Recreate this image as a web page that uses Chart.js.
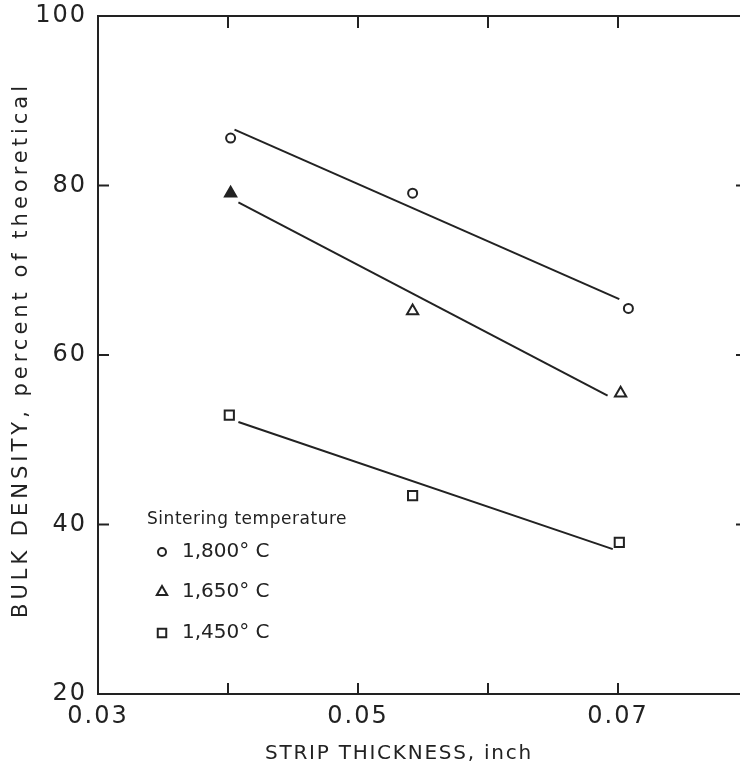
<!DOCTYPE html>
<html><head><meta charset="utf-8">
<script src="https://cdn.jsdelivr.net/npm/chart.js@4"></script>
<style>
html,body{margin:0;padding:0;background:#fff;overflow:hidden}
#wrap{width:740px;height:768px;overflow:hidden;position:relative;background:#fff}
canvas{display:block}
</style></head><body>
<div id="wrap"><canvas id="c" width="760" height="768"></canvas></div>
<script>
// ---- data ----
const seriesNames = ['1,800° C', '1,650° C', '1,450° C'];
const legendTitle = 'Sintering temperature';
const xTitle = 'STRIP THICKNESS, inch';
const yTitle = 'BULK DENSITY, percent of theoretical';

const thickness1800 = [0.0402, 0.0542, 0.0708];
const density1800   = [85.6, 79.1, 65.5];
const thickness1650 = [0.0402, 0.0542, 0.0702];
const density1650   = [79.1, 65.2, 55.5];
const thickness1450 = [0.0401, 0.0542, 0.0701];
const density1450   = [52.9, 43.4, 37.9];

// fitted straight lines (end points)
const fitX1800 = [0.0405, 0.0701], fitY1800 = [86.6, 66.6];
const fitX1650 = [0.0408, 0.0692], fitY1650 = [78.0, 55.2];
const fitX1450 = [0.0408, 0.0696], fitY1450 = [52.1, 37.1];

const xTickLabels = ['0.03', '', '0.05', '', '0.07', ''];
const yTickLabels = ['20', '40', '60', '80', '100'];

// ---- helpers ----
const INK = '#222222';
const pts = (xs, ys) => xs.map((x, i) => ({x, y: ys[i]}));
const FONT = '"DejaVu Sans", sans-serif';

function drawSpaced(ctx, text, x, y, target, font, opts) {
  opts = opts || {};
  ctx.save();
  ctx.font = font;
  ctx.letterSpacing = '0px';
  const w0 = ctx.measureText(text).width;
  const n = [...text].length;
  const sp = Math.max(0, (target - w0) / n);
  ctx.letterSpacing = sp.toFixed(2) + 'px';
  ctx.fillStyle = INK;
  ctx.translate(x, y);
  if (opts.rotate) ctx.rotate(-Math.PI / 2);
  ctx.textBaseline = 'middle';
  ctx.textAlign = 'left';
  ctx.fillText(text, opts.left ? 0 : -target / 2, 0);
  ctx.restore();
}

const spacingPlugin = {
  id: 'spacing',
  beforeUpdate(chart) { chart.ctx.letterSpacing = '2px'; },
  beforeDraw(chart) {
    const ctx = chart.ctx;
    ctx.letterSpacing = '2px';
    ctx.save();
    ctx.fillStyle = '#fff';
    ctx.fillRect(0, 0, chart.width, chart.height);
    ctx.restore();
  }
};

const framePlugin = {
  id: 'frame',
  afterDraw(chart) {
    const {ctx, chartArea: a, scales: {x, y}} = chart;
    ctx.save();
    ctx.letterSpacing = '0px';
    ctx.strokeStyle = INK;
    ctx.lineWidth = 2;
    ctx.lineCap = 'butt';
    ctx.beginPath();
    ctx.rect(a.left, a.top, a.right - a.left, a.bottom - a.top);
    ctx.stroke();
    ctx.beginPath();
    x.ticks.forEach(t => {
      const px = x.getPixelForValue(t.value);
      if (px <= a.left + 2 || px >= a.right - 2) return;
      ctx.moveTo(px, a.bottom); ctx.lineTo(px, a.bottom - 11);
      ctx.moveTo(px, a.top); ctx.lineTo(px, a.top + 12);
    });
    y.ticks.forEach(t => {
      const py = y.getPixelForValue(t.value);
      if (py <= a.top + 2 || py >= a.bottom - 2) return;
      ctx.moveTo(a.left, py); ctx.lineTo(a.left + 11, py);
      ctx.moveTo(a.right, py); ctx.lineTo(a.right - 12, py);
    });
    ctx.stroke();
    ctx.restore();

    // axis titles
    drawSpaced(ctx, yTitle, 22, 350, 536, '21px ' + FONT, {rotate: true});
    drawSpaced(ctx, xTitle, 399, 754, 268, '20px ' + FONT);

    // legend
    drawSpaced(ctx, legendTitle, 147, 520, 200, '17px ' + FONT, {left: true});
    const styles = ['circle', 'triangle', 'rect'];
    const radii = [4, 6, 6];
    const ys = [552, 592, 633];
    ctx.save();
    ctx.strokeStyle = INK;
    ctx.fillStyle = '#fff';
    ctx.lineWidth = 2;
    styles.forEach((s, i) => {
      Chart.helpers.drawPoint(ctx, {pointStyle: s, radius: radii[i], borderWidth: 2, rotation: 0}, 162, ys[i]);
    });
    ctx.restore();
    seriesNames.forEach((name, i) => drawSpaced(ctx, name, 182, ys[i], 86, '20px ' + FONT, {left: true}));
  }
};

const markerDs = (label, xs, ys, style, r, fills) => ({
  type: 'scatter',
  label,
  data: pts(xs, ys),
  pointStyle: style,
  pointRadius: r,
  pointHoverRadius: r,
  pointBorderWidth: 2,
  pointBorderColor: INK,
  pointBackgroundColor: fills || '#fff',
  showLine: false,
  order: 1
});
const fitDs = (xs, ys) => ({
  type: 'line',
  data: pts(xs, ys),
  borderColor: INK,
  borderWidth: 2,
  pointRadius: 0,
  fill: false,
  tension: 0,
  order: 2
});

new Chart(document.getElementById('c'), {
  type: 'scatter',
  data: {
    datasets: [
      fitDs(fitX1800, fitY1800),
      fitDs(fitX1650, fitY1650),
      fitDs(fitX1450, fitY1450),
      markerDs(seriesNames[0], thickness1800, density1800, 'circle', 4.5),
      markerDs(seriesNames[1], thickness1650, density1650, 'triangle', 6.5, [INK, '#fff', '#fff']),
      markerDs(seriesNames[2], thickness1450, density1450, 'rect', 6.5)
    ]
  },
  options: {
    responsive: false,
    animation: false,
    events: [],
    layout: {padding: {top: 16, right: 12, left: 0, bottom: 0}},
    plugins: {legend: {display: false}, tooltip: {enabled: false}, title: {display: false}},
    scales: {
      x: {
        type: 'linear', min: 0.03, max: 0.08,
        grid: {display: false, drawTicks: false},
        border: {display: false},
        ticks: {
          stepSize: 0.01, autoSkip: false, maxRotation: 0, padding: 8,
          color: INK, font: {family: FONT, size: 24},
          callback: (v, i) => xTickLabels[i] ?? ''
        },
        afterFit: s => { s.height = 74; }
      },
      y: {
        type: 'linear', min: 20, max: 100,
        grid: {display: false, drawTicks: false},
        border: {display: false},
        ticks: {
          stepSize: 20, autoSkip: false, padding: 11,
          color: INK, font: {family: FONT, size: 24, lineHeight: 0.4},
          callback: (v, i) => yTickLabels[i] ?? ''
        },
        afterFit: s => { s.width = 98; }
      }
    }
  },
  plugins: [spacingPlugin, framePlugin]
});
</script>
</body></html>
